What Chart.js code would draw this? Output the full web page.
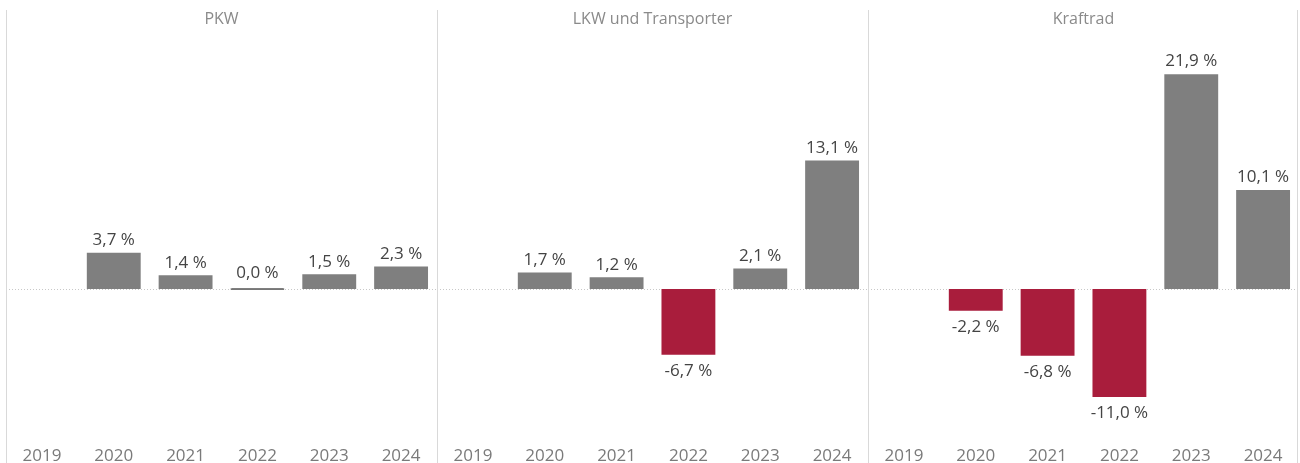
<!DOCTYPE html>
<html>
<head>
<meta charset="utf-8">
<script src="https://cdn.jsdelivr.net/npm/chart.js@4.4.1/dist/chart.umd.min.js"></script>
<style>
  body { margin: 0; background: #fff; }
  #wrap { position: relative; width: 1300px; height: 463px; overflow: hidden; }
  .panel { position: absolute; top: 0; width: 431px; height: 463px; }
  .sep { position: absolute; top: 10px; width: 1px; height: 453px; background: #d9d9d9; }
</style>
</head>
<body>
<div id="wrap">
  <div class="panel" style="left:6px"><canvas id="c0"></canvas></div>
  <div class="panel" style="left:437px"><canvas id="c1"></canvas></div>
  <div class="panel" style="left:868px"><canvas id="c2"></canvas></div>
  <div class="sep" style="left:6px"></div>
  <div class="sep" style="left:437px"></div>
  <div class="sep" style="left:868px"></div>
  <div class="sep" style="left:1297px"></div>
</div>
<script>
var years = ["2019", "2020", "2021", "2022", "2023", "2024"];
var panelTitles = ["PKW", "LKW und Transporter", "Kraftrad"];
var pkw = [null, 3.7, 1.4, 0.0, 1.5, 2.3];
var lkw = [null, 1.7, 1.2, -6.7, 2.1, 13.1];
var kraftrad = [null, -2.2, -6.8, -11.0, 21.9, 10.1];
var series = [pkw, lkw, kraftrad];

var grey = "#7f7f7f";
var red = "#a91d3c";

Chart.defaults.font.family = "'Open Sans', sans-serif";
Chart.defaults.font.size = 17;

// zero line + value labels
var barLabels = {
    id: "barLabels",
    beforeDatasetsDraw: function (chart) {
        var ctx = chart.ctx;
        var y0 = chart.scales.y.getPixelForValue(0);
        ctx.save();
        ctx.strokeStyle = "#c8c8c8";
        ctx.lineWidth = 1;
        ctx.setLineDash([1, 2]);
        ctx.beginPath();
        ctx.moveTo(0, Math.round(y0) + 0.5);
        ctx.lineTo(chart.width, Math.round(y0) + 0.5);
        ctx.stroke();
        ctx.restore();
    },
    afterDatasetsDraw: function (chart) {
        var ctx = chart.ctx;
        var data = chart.data.datasets[0].data;
        ctx.save();
        ctx.fillStyle = "#444";
        ctx.font = "17px 'Open Sans', sans-serif";
        ctx.textAlign = "center";
        chart.getDatasetMeta(0).data.forEach(function (bar, i) {
            var v = data[i];
            if (v === null) return;
            var txt = v.toFixed(1).replace(".", ",") + " %";
            if (v >= 0) {
                ctx.textBaseline = "bottom";
                ctx.fillText(txt, bar.x, Math.min(bar.y, bar.base - 2) - 4);
            } else {
                ctx.textBaseline = "top";
                ctx.fillText(txt, bar.x, bar.y + 8);
            }
        });
        ctx.restore();
    }
};

series.forEach(function (vals, p) {
    new Chart(document.getElementById("c" + p), {
        type: "bar",
        data: {
            labels: years,
            datasets: [{
                data: vals,
                backgroundColor: vals.map(function (v) { return v < 0 ? red : grey; }),
                borderColor: vals.map(function (v) { return v < 0 ? red : "#777"; }),
                borderWidth: vals.map(function (v) { return v === 0 ? 1 : 0; }),
                minBarLength: 2,
                categoryPercentage: 1,
                barPercentage: 0.75
            }]
        },
        options: {
            responsive: true,
            maintainAspectRatio: false,
            animation: false,
            layout: { padding: 0 },
            plugins: {
                legend: { display: false },
                tooltip: { enabled: false },
                title: {
                    display: true,
                    text: panelTitles[p],
                    color: "#8a8a8a",
                    font: { size: 16, weight: "normal" },
                    padding: { top: 10, bottom: 9 }
                }
            },
            scales: {
                x: {
                    grid: { display: false },
                    border: { display: false },
                    ticks: { color: "#7a7a7a", padding: 5, font: { size: 17 } },
                    afterFit: function (s) { s.height = 30; }
                },
                y: {
                    display: false,
                    min: -14.66,
                    max: 25.56
                }
            }
        },
        plugins: [barLabels]
    });
});
</script>
</body>
</html>
